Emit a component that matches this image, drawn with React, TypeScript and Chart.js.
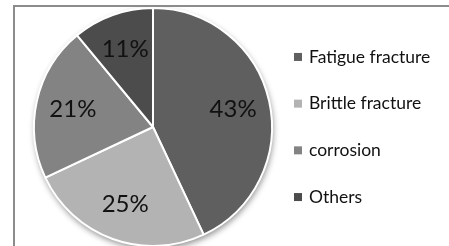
import React, { useEffect, useRef } from "react";
import { Chart, registerables } from "chart.js";

Chart.register(...registerables);

const categories = ["Fatigue fracture", "Brittle fracture", "corrosion", "Others"];
const shares = [43, 25, 21, 11];
const sliceColors = ["#5f5f5f", "#b3b3b3", "#838383", "#4c4c4c"];
const labelTexts = ["43%", "25%", "21%", "11%"];

const FONT = "Lato, 'Open Sans', sans-serif";

const shadowPlugin = {
  id: "pieShadow",
  beforeDatasetsDraw(chart: any) {
    const meta = chart.getDatasetMeta(0);
    const arc = meta.data[0];
    if (!arc) return;
    const { x, y, outerRadius } = arc.getProps(["x", "y", "outerRadius"], true);
    const ctx = chart.ctx;
    ctx.save();
    ctx.shadowColor = "rgba(0,0,0,0.45)";
    ctx.shadowBlur = 6;
    ctx.shadowOffsetX = 1;
    ctx.shadowOffsetY = 3;
    ctx.beginPath();
    ctx.arc(x, y, outerRadius, 0, Math.PI * 2);
    ctx.fillStyle = "#ffffff";
    ctx.fill();
    ctx.restore();
  },
};

const labelPlugin = {
  id: "sliceLabels",
  afterDatasetsDraw(chart: any) {
    const meta = chart.getDatasetMeta(0);
    const ctx = chart.ctx;
    ctx.save();
    ctx.font = `24px ${FONT}`;
    ctx.fillStyle = "#111111";
    ctx.textAlign = "center";
    ctx.textBaseline = "middle";
    meta.data.forEach((arc: any, i: number) => {
      const { x, y, startAngle, endAngle, outerRadius } = arc.getProps(
        ["x", "y", "startAngle", "endAngle", "outerRadius"],
        true
      );
      const mid = (startAngle + endAngle) / 2;
      const r = outerRadius * 0.69;
      ctx.fillText(labelTexts[i], x + Math.cos(mid) * r, y + Math.sin(mid) * r);
    });
    ctx.restore();
  },
};

const legendPlugin = {
  id: "sideLegend",
  afterDraw(chart: any) {
    const ctx = chart.ctx;
    const labels = chart.data.labels as string[];
    const colors = chart.data.datasets[0].backgroundColor as string[];
    const cy = 127;
    const gap = 46.7;
    ctx.save();
    ctx.font = `17.5px ${FONT}`;
    ctx.textBaseline = "middle";
    ctx.textAlign = "left";
    labels.forEach((lab, i) => {
      const yy = cy + (i - (labels.length - 1) / 2) * gap;
      ctx.fillStyle = colors[i];
      ctx.fillRect(294, yy - 4, 8, 8);
      ctx.fillStyle = "#111111";
      ctx.fillText(lab, 309, yy);
    });
    ctx.restore();
  },
};

export default function App() {
  const ref = useRef<HTMLCanvasElement | null>(null);
  useEffect(() => {
    document.body.style.margin = "0";
    if (!ref.current) return;
    const chart = new Chart(ref.current, {
      type: "pie",
      data: {
        labels: categories,
        datasets: [
          {
            data: shares,
            backgroundColor: sliceColors,
            borderColor: "#ffffff",
            borderWidth: 2,
          },
        ],
      },
      options: {
        animation: false,
        responsive: false,
        layout: { padding: { left: 33, right: 176, top: 7, bottom: 0 } },
        plugins: {
          legend: { display: false },
          tooltip: { enabled: false },
        },
      },
      plugins: [shadowPlugin, labelPlugin, legendPlugin],
    });
    return () => chart.destroy();
  }, []);
  return (
    <div
      style={{
        position: "relative",
        width: 449,
        height: 246,
        overflow: "hidden",
        background: "#ffffff",
      }}
    >
      <canvas
        ref={ref}
        width={449}
        height={247}
        style={{ position: "absolute", left: 0, top: 0, width: 449, height: 247 }}
      />
      <div
        style={{
          position: "absolute",
          left: 13,
          top: 5,
          width: 460,
          height: 300,
          borderLeft: "2px solid #8c8c8c",
          borderTop: "2px solid #8c8c8c",
          pointerEvents: "none",
        }}
      />
    </div>
  );
}
